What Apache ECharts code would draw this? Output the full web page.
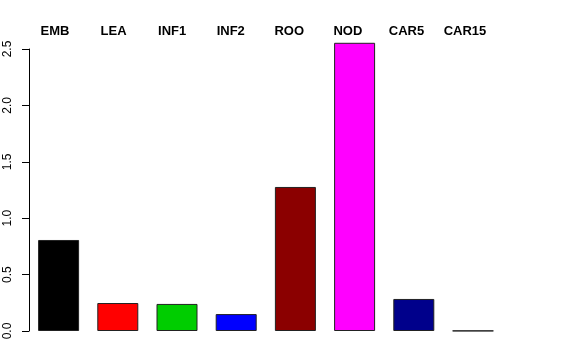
<!DOCTYPE html>
<html><head><meta charset="utf-8">
<script src="https://cdn.jsdelivr.net/npm/echarts@6/dist/echarts.min.js"></script>
<style>html,body{margin:0;padding:0;background:#fff}#c{width:576px;height:360px}</style>
</head><body><div id="c"></div>
<script>
const categories = ['EMB','LEA','INF1','INF2','ROO','NOD','CAR5','CAR15'];
const values = [0.807, 0.248, 0.240, 0.150, 1.277, 2.555, 0.284, 0.002];
const colors = ['#000000','#FF0000','#00CD00','#0000FF','#8B0000','#FF00FF','#00008B','#555555'];
const yTicks = [0, 0.5, 1.0, 1.5, 2.0, 2.5];

const chart = echarts.init(document.getElementById('c'), null, {renderer:'canvas'});
chart.setOption({
  animation:false,
  backgroundColor:'#fff',
  grid:[
    {left:29, top:49, width:473.6, bottom:29, containLabel:false, outerBoundsMode:'none'},
    {left:25.7, top:40, width:468.6, height:10, containLabel:false, outerBoundsMode:'none'}
  ],
  xAxis:[
    {type:'category', data:categories, gridIndex:0, axisLine:{show:false}, axisTick:{show:false}, axisLabel:{show:false}},
    {type:'category', data:categories, gridIndex:1, position:'top', axisLine:{show:false}, axisTick:{show:false},
     axisLabel:{margin:2, fontFamily:'Liberation Sans, Arial, sans-serif', fontWeight:'bold', fontSize:13, color:'#000'}}
  ],
  yAxis:[
    {type:'value', gridIndex:0, min:yTicks[0], max:yTicks[yTicks.length-1], interval:0.5,
     axisLine:{show:true, lineStyle:{color:'#000', width:1}},
     axisTick:{show:true, length:7, lineStyle:{color:'#000', width:1}},
     splitLine:{show:false},
     axisLabel:{rotate:90, margin:15, fontFamily:'Liberation Sans, Arial, sans-serif', fontSize:12, color:'#000',
       formatter:v=>v.toFixed(1)}},
    {type:'value', gridIndex:1, show:false}
  ],
  series:[{
    type:'bar', xAxisIndex:0, yAxisIndex:0, clip:false, barWidth:41,
    data: values.map((v,i)=>({value:v, itemStyle:{color:colors[i]}})),
    itemStyle:{borderColor:'#222', borderWidth:1}
  }]
});
</script></body></html>
